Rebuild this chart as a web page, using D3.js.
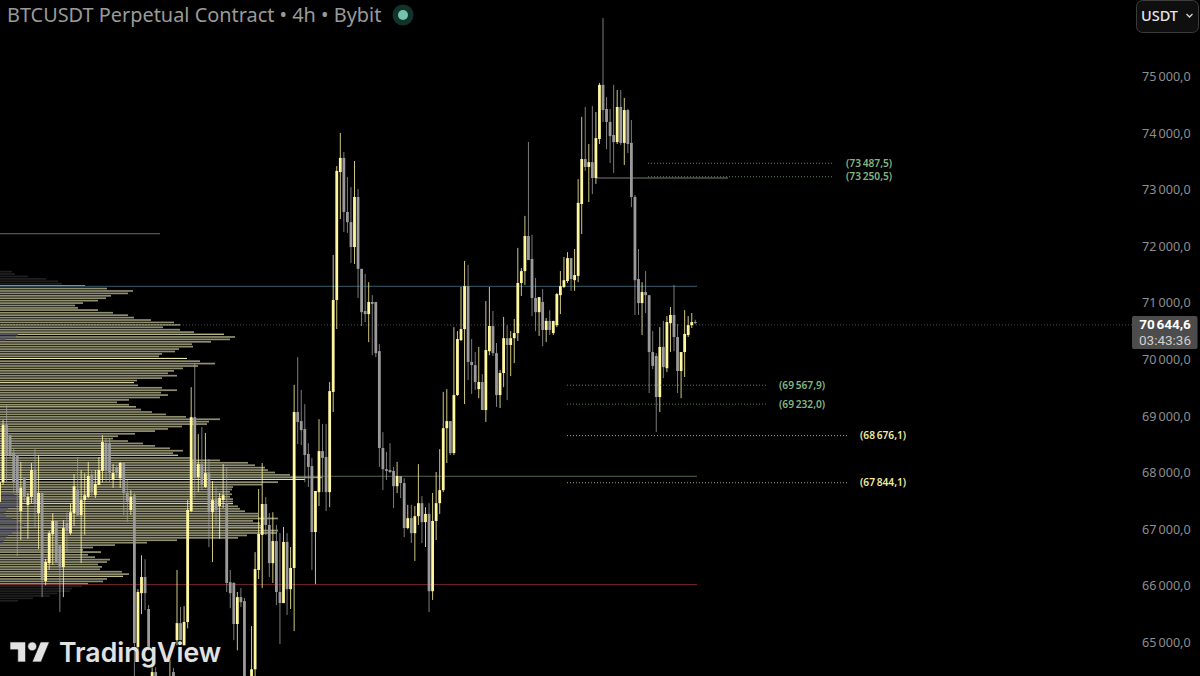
<!DOCTYPE html>
<html><head><meta charset="utf-8">
<style>html,body{margin:0;padding:0;background:#000;overflow:hidden}svg{display:block}</style>
<script src="https://cdn.jsdelivr.net/npm/d3@7/dist/d3.min.js"></script>
</head><body><svg id="c" width="1200" height="676"></svg>
<script>
// OHLC rows, oldest first
const candleOpen=[67480,67830,68840,68660,68350,68310,67320,67900,67430,67570,68045,67285,67640,66085,66400,66910,67145,66720,66330,67110,66930,67285,67690,67250,67515,67570,67960,67600,67780,68030,68520,68520,67885,68100,67900,68170,67640,67340,67600,64920,65870,66155,65590,64060,64475,63980,64245,63890,64060,64475,65040,65340,64950,65360,67320,68980,67920,68150,67745,67990,67300,67515,67410,67515,67460,66065,66050,65325,65800,65730,63890,63980,64525,66280,66900,67445,67075,66400,66790,65890,65695,66775,65940,66315,69070,68910,68770,68330,68115,66950,67655,68380,68275,67655,69425,71050,73310,73560,72605,72425,71985,72870,71600,70855,70800,71015,71015,70145,68435,68060,68045,68030,67760,67940,67815,67020,67195,66930,67230,67460,67125,67270,65905,67145,67460,67690,68785,68910,68345,69370,70340,70535,71295,69955,69900,69475,69600,69105,70145,70590,70110,69370,69760,70375,70255,70375,70465,71350,71560,72180,71775,71085,70835,71015,70520,70680,70465,70605,71135,71280,71385,71790,71400,71475,72745,73540,73400,73485,73205,73895,74850,74425,74195,73965,73840,74460,73825,74405,73825,72870,71420,70995,71190,71135,70130,70060,69335,70220,69845,70640,70785,70395,69795,70130,70430,70605,70660];
const candleHigh=[67870,68930,69190,68660,68420,68310,68190,67900,67640,68170,68420,68310,67640,66475,66970,67285,67145,66720,67160,67300,67460,67975,68275,68045,67990,68190,68045,68045,68275,68660,68610,68610,68150,68130,68190,68170,67870,67690,67640,65940,66540,66470,65660,64560,64560,64330,64330,64300,64690,64550,66280,65625,65640,67515,69510,69935,68680,68805,68700,68240,67850,67760,67640,68150,68100,66280,66065,65890,65960,65785,64245,65290,66595,67710,68170,67570,67285,67300,67075,66930,67040,66930,66685,69550,70040,69460,69210,68520,68260,67675,68945,68860,68860,69600,71845,73415,74000,73665,73225,73045,73505,73010,71600,71510,71365,71135,71015,70270,68715,68365,68520,68100,68190,67940,67900,67430,67430,67410,68150,67585,67390,67460,67640,68010,68415,69425,69475,68910,70570,70500,71280,71740,71670,70360,70130,70220,69740,71030,71280,70855,70290,69810,70750,70605,70500,70715,71970,71615,72535,73840,72200,71440,71100,71245,70730,70870,70680,71175,71560,71810,71895,71790,71950,73185,74285,74460,73805,74475,74370,74885,76030,74635,74425,74850,74760,74760,74620,74425,74230,72905,71950,71365,71560,71135,70500,70110,70570,70680,70765,70925,71315,70625,70130,70870,70765,70820,70700];
const candleLow=[67430,67780,67830,68260,67640,66525,66810,67480,66830,67460,67020,66650,65800,66010,66280,66370,66400,65540,65800,66600,66900,67055,67230,66400,66900,67550,67570,67550,67780,67830,67830,67815,67730,67900,67730,67250,67125,67250,64160,64860,65500,65570,64860,63980,64060,63890,63890,63800,63980,64060,64950,65040,64950,65250,67300,67550,67655,67690,67730,66685,66420,67075,66830,67375,65890,65605,65040,64860,65625,63980,63710,63890,64385,66120,65960,66900,66155,66050,65660,64970,65695,65485,65590,65200,68505,68485,67830,67745,66280,66030,67410,67655,67320,67390,69070,70535,72480,72250,72235,71705,71685,71085,70590,70660,70305,70075,70040,68100,67690,67870,67990,67375,67640,67550,66860,67000,66755,66440,67075,66755,66685,65535,65750,66810,67270,67655,68170,68310,68310,69355,70325,69210,69635,69390,69460,69315,69105,68895,70075,70060,69160,69140,69510,69280,69705,69935,70325,71120,71315,71755,70765,70500,70415,70235,70305,70430,70430,70570,70800,71260,71350,71210,71210,71365,72215,73330,72780,72920,73100,73805,74195,73715,73470,73295,73805,73790,73435,73645,72690,70785,70785,70430,70820,69405,69830,68715,69070,69670,69775,70130,70145,69405,69315,69690,70395,70555,70620];
const candleClose=[67830,68840,68310,68310,67820,67640,67730,67570,67570,68045,67460,67640,66100,66420,66930,67145,66400,66330,67020,66970,67300,67760,67250,67515,67600,67940,67655,67800,68045,68540,68045,67990,67990,67990,68170,67640,67480,67570,64990,65890,66155,65870,64920,64475,64160,64245,63980,64160,64370,64160,65340,65040,65360,67340,68980,67920,68150,67780,67990,67300,67515,67340,67550,67600,66050,65870,65325,65800,65710,64160,64160,64525,66295,66915,67445,67075,66400,66790,65890,65695,66775,65940,66315,69070,68895,68750,68310,68100,66950,67675,68380,68260,67655,69440,71050,73330,73560,72605,72425,71985,72870,71600,70835,70800,71015,70980,70110,68435,68060,68030,68010,67760,67940,67815,67020,67195,66930,67230,67460,67125,67270,65905,67145,67460,67690,68785,68910,68345,69370,70360,70535,71295,69955,69900,69600,69600,69105,70165,70590,70110,69370,69760,70375,70255,70375,70465,71350,71560,72180,71755,71085,70835,71100,70520,70680,70520,70680,71155,71295,71400,71790,71420,71490,72765,73540,73400,73485,73205,73910,74850,74405,74195,73945,73840,74460,73825,74405,73805,72870,71400,70995,71190,71135,70130,69885,69335,70220,69865,70660,70785,70395,69795,70130,70450,70605,70660,70644.6];

// Volume profile rows, top row first
const vpVolumes=[12,15,28,46,58,62,85,107,133,128,111,106,98,83,75,78,98,113,128,134,151,174,180,163,180,194,224,235,230,211,192,193,179,175,162,159,187,200,215,198,183,174,168,177,162,137,134,138,162,177,161,168,160,129,117,129,136,141,152,166,186,220,209,207,182,168,155,135,118,113,128,143,155,170,183,173,178,190,220,248,255,265,268,275,290,322,305,278,262,233,232,230,232,230,233,233,233,238,240,245,258,258,278,253,260,262,262,278,277,247,238,177,147,115,93,83,101,88,95,110,107,98,102,100,122,129,123,107,103,88,82,72,70,57,50,33,18];
const vpTopPrice=71551, vpStep=42.76;
const vpShadeRow=[26,27,28,92,93,94,95,96,97,98,99,100,101,102,103,104,105,106,107,108,109,110,111,112];
const vpShadeVol=[18,16,6,14,18,22,24,22,16,8,6,4,6,12,18,22,24,22,20,12,8,6,4,3];

const axisTicks=[75000,74000,73000,72000,71000,70000,69000,68000,67000,66000,65000];
const lastPrice=70644.6, countdown="03:43:36";
const priceLines=[71290,67935,66020,72220,73205];
const greenLevels=[73487.5,73250.5,69567.9,69232.0];
const yellowLevels=[68676.1,67844.1];
const titleText="BTCUSDT Perpetual Contract \u2022 4h \u2022 Bybit", currency="USDT";

// Layout and style, kept apart from the data
const lineStyle=[[0,697,"#2c4a56",1.3],[0,697,"#56654f",1],[0,697,"#7c2a2e",1],[0,160,"#6c6c6c",1],[596,728,"#7a7a7a",1]];
const greenSpan=[[648,833,846],[648,833,846],[567,768,779],[567,768,779]];
const yellowSpan=[[567,848,860],[567,848,860]];
const font="'Noto Sans',sans-serif";
const UP="#fff6a0", DOWN="#9a9a9a";

const svg=d3.select("#c");
svg.append("rect").attr("width",1200).attr("height",676).attr("fill","#000");
const y=d3.scaleLinear().domain([65000,75000]).range([642.4,76.4]);
const x=d3.scaleLinear().domain([0,candleOpen.length-1]).range([-0.5,695.3]);
const w=d3.scaleLinear().domain([0,100]).range([0,100]);
const fmt=d3.formatLocale({decimal:",",thousands:"\u202f",grouping:[3],currency:["",""]}).format(",.1f");

// volume profile
const vp=svg.append("g");
vp.selectAll("rect.r").data(vpVolumes).join("rect").attr("class","r")
 .attr("x",0).attr("width",d=>w(d))
 .attr("y",(d,i)=>y(vpTopPrice-i*vpStep)-0.85)
 .attr("height",(d,i)=>i%10===6&&i<130?1.1:1.7)
 .attr("fill",(d,i)=>(i<6||i>=130)?"#202020":(i%10===6?"#e8e6ae":"#8f8e70"));
vp.selectAll("rect.s").data(vpShadeRow).join("rect").attr("class","s")
 .attr("x",0).attr("width",(d,i)=>w(vpShadeVol[i]))
 .attr("y",d=>y(vpTopPrice-d*vpStep)-0.85).attr("height",1.7).attr("fill","#5a5a68");

// horizontal lines
svg.append("g").selectAll("line").data(priceLines).join("line")
 .attr("x1",(d,i)=>lineStyle[i][0]).attr("x2",(d,i)=>lineStyle[i][1])
 .attr("y1",d=>y(d)).attr("y2",d=>y(d))
 .attr("stroke",(d,i)=>lineStyle[i][2]).attr("stroke-width",(d,i)=>lineStyle[i][3]);

// last price dotted
svg.append("line").attr("x1",0).attr("x2",1132).attr("y1",y(lastPrice)+2).attr("y2",y(lastPrice)+2)
 .attr("stroke","#4a4a4a").attr("stroke-width",1).attr("stroke-dasharray","1 2");

// candles
const idx=d3.range(candleOpen.length);
const g=svg.append("g");
g.selectAll("line").data(idx).join("line")
 .attr("x1",i=>x(i)).attr("x2",i=>x(i))
 .attr("y1",i=>y(candleHigh[i])).attr("y2",i=>y(candleLow[i]))
 .attr("stroke",i=>candleClose[i]>=candleOpen[i]?UP:DOWN).attr("stroke-width",0.95).attr("stroke-opacity",0.85);
g.selectAll("rect").data(idx).join("rect")
 .attr("x",i=>x(i)-1.4).attr("width",2.8)
 .attr("y",i=>y(Math.max(candleOpen[i],candleClose[i])))
 .attr("height",i=>Math.max(1,Math.abs(y(candleOpen[i])-y(candleClose[i]))))
 .attr("fill",i=>candleClose[i]>=candleOpen[i]?UP:DOWN);

// level dotted lines and labels
function levels(vals,span,col){
 const l=svg.append("g");
 l.selectAll("line").data(vals).join("line")
  .attr("x1",(d,i)=>span[i][0]).attr("x2",(d,i)=>span[i][1])
  .attr("y1",d=>y(d)+1.3).attr("y2",d=>y(d)+1.3)
  .attr("stroke",col).attr("stroke-opacity",0.7).attr("stroke-width",1).attr("stroke-dasharray","1 2");
 l.selectAll("text").data(vals).join("text")
  .attr("x",(d,i)=>span[i][2]).attr("y",d=>y(d)+1.3).attr("dy","0.35em")
  .attr("fill",col).attr("font-family",font).attr("font-size",10.2).attr("font-weight",600)
  .text(d=>"("+fmt(d)+")");
}
levels(greenLevels,greenSpan,"#82b582");
levels(yellowLevels,yellowSpan,"#eee8a2");

// price axis
const ax=svg.append("g").attr("transform","translate(1142,0)")
 .call(d3.axisRight(y).tickValues(axisTicks).tickSize(0).tickPadding(0).tickFormat(fmt));
ax.select(".domain").remove();
ax.selectAll("text").attr("fill","#8e8e8e").attr("font-family",font).attr("font-size",12.6);

// last price tag
svg.append("rect").attr("x",1132).attr("y",316).attr("width",65.5).attr("height",33).attr("rx",2).attr("fill","#4c4c4c");
svg.append("text").attr("x",1165).attr("y",324).attr("dy","0.35em").attr("text-anchor","middle").attr("fill","#fff")
 .attr("font-family","Roboto,sans-serif").attr("font-size",13.5).attr("font-weight",700).text(fmt(lastPrice));
svg.append("text").attr("x",1165).attr("y",340.5).attr("dy","0.35em").attr("text-anchor","middle").attr("fill","#cfcfcf")
 .attr("font-family","Roboto,sans-serif").attr("font-size",13.5).text(countdown);

// currency button
svg.append("rect").attr("x",1136.5).attr("y",0.5).attr("width",62).attr("height",32).attr("rx",6).attr("fill","#0f0f0f").attr("stroke","#3c3c3c");
svg.append("text").attr("x",1141).attr("y",15.5).attr("dy","0.35em").attr("fill","#e6e6e6").attr("font-family",font).attr("font-size",14.5).attr("font-weight",500).text(currency);
svg.append("path").attr("d","M1186.5 14l3 3 3-3").attr("fill","none").attr("stroke","#d8d8d8").attr("stroke-width",1.3);

// title and status
svg.append("text").attr("x",7).attr("y",15).attr("dy","0.35em").attr("fill","#9a9a9a").attr("font-family",font).attr("font-size",19.9).text(titleText);
svg.append("circle").attr("cx",403).attr("cy",15).attr("r",10.5).attr("fill","#12332c");
svg.append("circle").attr("cx",403).attr("cy",15).attr("r",5).attr("fill","#74c4ac");

// watermark
const wm=svg.append("g");
wm.append("g").attr("transform","translate(10,637.5) scale(1.11)").attr("fill","#e2e2e2").attr("stroke","#111").attr("stroke-width",0.6)
 .call(s=>{s.append("path").attr("d","M14 22H7V11H0V4h14v18zM28 22h-8l7.5-18h8L28 22z");s.append("circle").attr("cx",20).attr("cy",8).attr("r",4);});
wm.append("text").attr("x",59).attr("y",662).attr("fill","#e2e2e2").attr("stroke","#111").attr("stroke-width",0.6).attr("paint-order","stroke")
 .attr("font-family","Inter,'Noto Sans',sans-serif").attr("font-size",26.6).attr("font-weight",600).text("TradingView");
</script></body></html>
